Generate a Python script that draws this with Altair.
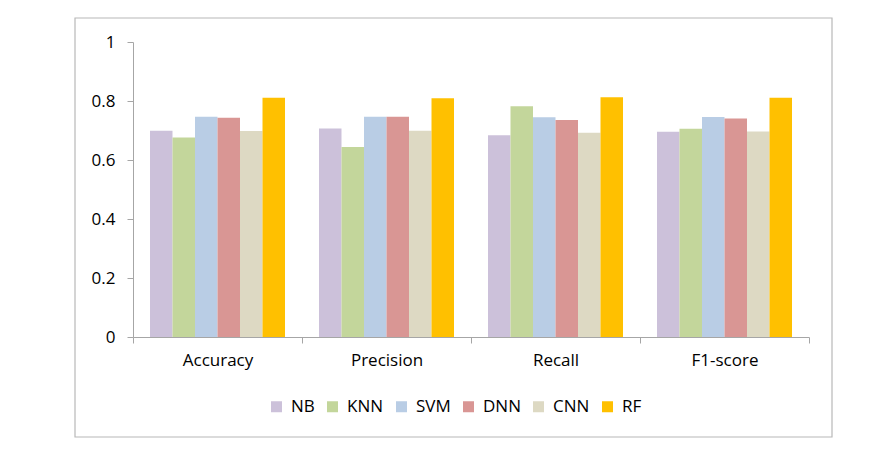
import altair as alt
import pandas as pd

metrics = ["Accuracy", "Precision", "Recall", "F1-score"]
models = ["NB", "KNN", "SVM", "DNN", "CNN", "RF"]
colors = ["#ccc1da", "#c3d69b", "#b9cde5", "#d99694", "#ddd9c3", "#ffc000"]

nb = [0.699, 0.707, 0.684, 0.696]
knn = [0.676, 0.644, 0.782, 0.706]
svm = [0.747, 0.747, 0.745, 0.746]
dnn = [0.743, 0.747, 0.736, 0.741]
cnn = [0.698, 0.699, 0.692, 0.697]
rf = [0.811, 0.809, 0.813, 0.811]

series = [nb, knn, svm, dnn, cnn, rf]
rows = []
for m, vals in zip(models, series):
    for metric, v in zip(metrics, vals):
        rows.append({"metric": metric, "model": m, "value": v})
df = pd.DataFrame(rows)

FONT = "Open Sans"
AXIS_COLOR = "#a6a6a6"

bars = alt.Chart(df).mark_bar().encode(
    x=alt.X("metric:N", sort=metrics,
            scale=alt.Scale(paddingInner=0, paddingOuter=0),
            axis=alt.Axis(title=None, labelAngle=0, tickBand="extent",
                          tickSize=6, labelPadding=9, labelFontSize=17,
                          labelFont=FONT, labelColor="#000000",
                          domainColor=AXIS_COLOR, tickColor=AXIS_COLOR)),
    xOffset=alt.XOffset("model:N", sort=models,
                        scale=alt.Scale(paddingInner=0, paddingOuter=0.755)),
    y=alt.Y("value:Q", scale=alt.Scale(domain=[0, 1]),
            axis=alt.Axis(title=None, values=[0, 0.2, 0.4, 0.6, 0.8, 1],
                          format="~f", grid=False, tickSize=6, labelPadding=12,
                          labelFontSize=17, labelFont=FONT, labelColor="#000000",
                          domainColor=AXIS_COLOR, tickColor=AXIS_COLOR)),
    color=alt.Color("model:N", sort=models,
                    scale=alt.Scale(domain=models, range=colors),
                    legend=alt.Legend(title=None, orient="none", direction="horizontal",
                                      legendX=135, legendY=356, padding=0,
                                      symbolType="square", symbolSize=121,
                                      symbolStrokeWidth=0, labelFontSize=17,
                                      labelFont=FONT, labelColor="#000000",
                                      labelOffset=6, columnPadding=9)),
)

frame = alt.Chart(pd.DataFrame({"a": [0]})).mark_rect(
    fillOpacity=0, stroke="#b8b8b8", strokeWidth=1.2
).encode(
    x=alt.value(-58), x2=alt.value(699), y=alt.value(-24), y2=alt.value(395)
)

chart = alt.layer(frame, bars).properties(
    width=676, height=295,
    autosize=alt.AutoSizeParams(type="none"),
    padding={"left": 125, "top": 34, "right": 40, "bottom": 110},
    background="#ffffff",
).configure_view(stroke=None)

chart.save("out.html", embed_options={"renderer": "svg", "actions": False})
